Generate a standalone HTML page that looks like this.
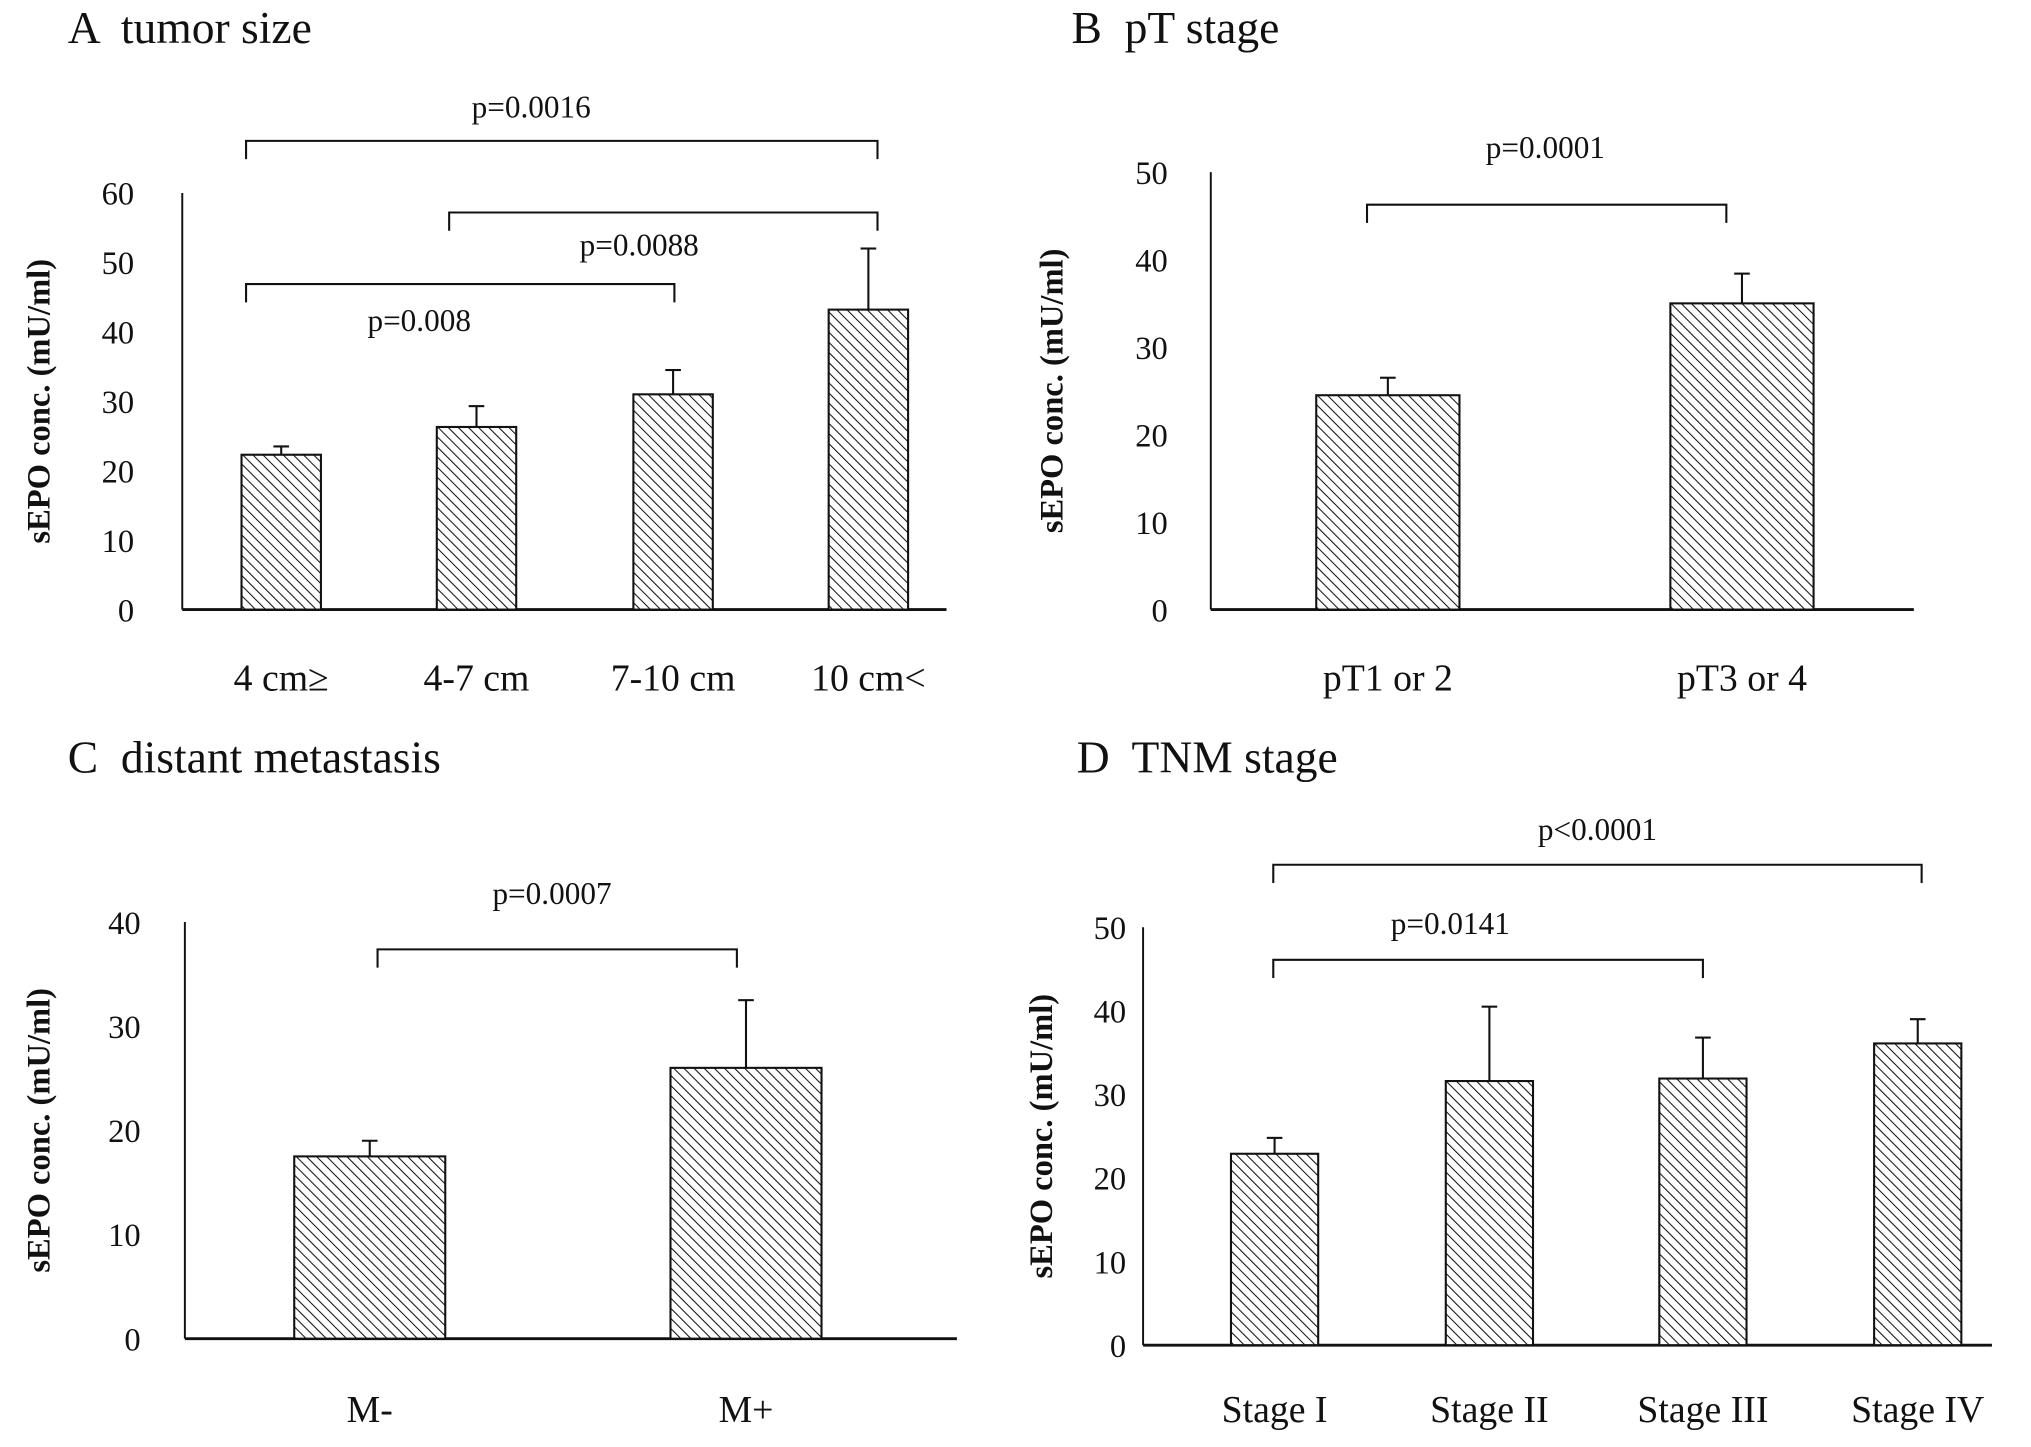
<!DOCTYPE html>
<html><head><meta charset="utf-8"><style>
html,body{margin:0;padding:0;background:#fff}
svg{display:block}
text{font-family:"Liberation Serif",serif;fill:#111;white-space:pre}
</style></head><body>
<svg id="fig" width="2031" height="1447" viewBox="0 0 1560 1111" xmlns="http://www.w3.org/2000/svg">
<defs>
<pattern id="hatch" patternUnits="userSpaceOnUse" width="5.5" height="5.5" patternTransform="rotate(-45)">
<rect width="5.5" height="5.5" fill="#fff"/>
<line x1="0" y1="0" x2="0" y2="5.5" stroke="#111" stroke-width="1.6"/>
</pattern>
</defs>
</svg>
<script>
// Panel A
const catsA = ["4 cm≥","4-7 cm","7-10 cm","10 cm<"];
const valsA = [22.3,26.3,31,43.2];
const errA = [23.5,29.3,34.5,52];
const ticksA = [0,10,20,30,40,50,60];
// Panel B
const catsB = ["pT1 or 2","pT3 or 4"];
const valsB = [24.5,35];
const errB = [26.5,38.4];
const ticksB = [0,10,20,30,40,50];
// Panel C
const catsC = ["M-","M+"];
const valsC = [17.5,26];
const errC = [19,32.5];
const ticksC = [0,10,20,30,40];
// Panel D
const catsD = ["Stage I","Stage II","Stage III","Stage IV"];
const valsD = [22.9,31.6,31.9,36.1];
const errD = [24.8,40.5,36.8,39];
const ticksD = [0,10,20,30,40,50];

const NS="http://www.w3.org/2000/svg";
const svg=document.getElementById('fig');
function mk(tag,attrs,parent,txt){const e=document.createElementNS(NS,tag);for(const k in attrs)e.setAttribute(k,attrs[k]);if(txt!==undefined)e.textContent=txt;(parent||svg).appendChild(e);return e;}

const panels=[
 {id:'a',title:'A  tumor size',tx:52,ty:33,ax:140,ax2:727,y0:468,ytop:148,max:60,centers:[216,366,517,667],bw:61,lab:520,tickR:103,ytx:30,
  cats:catsA,vals:valsA,err:errA,ticks:ticksA,
  br:[{x1:189,x2:674,y:108,t:'p=0.0016',tx:408,ty:90},{x1:345,x2:674,y:163,t:'p=0.0088',tx:491,ty:196},{x1:189,x2:518,y:218,t:'p=0.008',tx:322,ty:254}]},
 {id:'b',title:'B  pT stage',tx:823,ty:33,ax:930,ax2:1470,y0:468,ytop:132,max:50,centers:[1066,1338],bw:110,lab:520,tickR:897,ytx:808,
  cats:catsB,vals:valsB,err:errB,ticks:ticksB,
  br:[{x1:1050,x2:1326,y:157,t:'p=0.0001',tx:1187,ty:121}]},
 {id:'c',title:'C  distant metastasis',tx:52,ty:593,ax:142,ax2:735,y0:1028,ytop:708,max:40,centers:[284,573],bw:116,lab:1082,tickR:108,ytx:30,
  cats:catsC,vals:valsC,err:errC,ticks:ticksC,
  br:[{x1:290,x2:566,y:729,t:'p=0.0007',tx:424,ty:694}]},
 {id:'d',title:'D  TNM stage',tx:827,ty:593,ax:878,ax2:1530,y0:1033,ytop:712,max:50,centers:[979,1144,1308,1473],bw:67,lab:1082,tickR:865,ytx:800,
  cats:catsD,vals:valsD,err:errD,ticks:ticksD,
  br:[{x1:978,x2:1476,y:664,t:'p<0.0001',tx:1227,ty:645},{x1:978,x2:1308,y:737,t:'p=0.0141',tx:1114,ty:717}]}
];

panels.forEach(p=>{
  const g=mk('g',{});
  
  
  const y=v=>p.y0-(v/p.max)*(p.y0-p.ytop);
  const t=mk('text',{x:p.tx,y:p.ty,'font-size':35},g,p.title);
  
  
  const ya=mk('line',{x1:p.ax,y1:p.ytop,x2:p.ax,y2:p.y0,stroke:'#111','stroke-width':1.5},g);
  
  
  const xa=mk('line',{x1:p.ax,y1:p.y0,x2:p.ax2,y2:p.y0,stroke:'#111','stroke-width':2.2},g);
  
  
  p.ticks.forEach(v=>{
    const tl=mk('text',{x:p.tickR,y:y(v)+9,'font-size':25,'text-anchor':'end'},g,String(v));
    
    
  });
  const cy=(p.y0+p.ytop)/2;
  const yt=mk('text',{x:p.ytx,y:cy,'font-size':25,'font-weight':'bold','text-anchor':'middle',transform:`rotate(-90 ${p.ytx} ${cy})`,dy:8},g,'sEPO conc. (mU/ml)');
  
  
  p.vals.forEach((v,i)=>{
    const c=p.centers[i];
    const e=mk('line',{x1:c,y1:y(v),x2:c,y2:y(p.err[i]),stroke:'#111','stroke-width':1.6},g);
    
    
    const cap=mk('line',{x1:c-6,y1:y(p.err[i]),x2:c+6,y2:y(p.err[i]),stroke:'#111','stroke-width':1.6},g);
    
    
    const r=mk('rect',{x:c-p.bw/2,y:y(v),width:p.bw,height:p.y0-y(v),fill:'url(#hatch)',stroke:'#111','stroke-width':1.6},g);
    
    
    const xl=mk('text',{x:c,y:p.lab+10,'font-size':29,'text-anchor':'middle'},g,p.cats[i]);
    
    
  });
  p.br.forEach(b=>{
    const pl=mk('polyline',{points:`${b.x1},${b.y+14} ${b.x1},${b.y} ${b.x2},${b.y} ${b.x2},${b.y+14}`,fill:'none',stroke:'#111','stroke-width':1.6},g);
    
    
    const bt=mk('text',{x:b.tx,y:b.ty,'font-size':24,'text-anchor':'middle'},g,b.t);
    
    
  });
});
</script>
</body></html>
